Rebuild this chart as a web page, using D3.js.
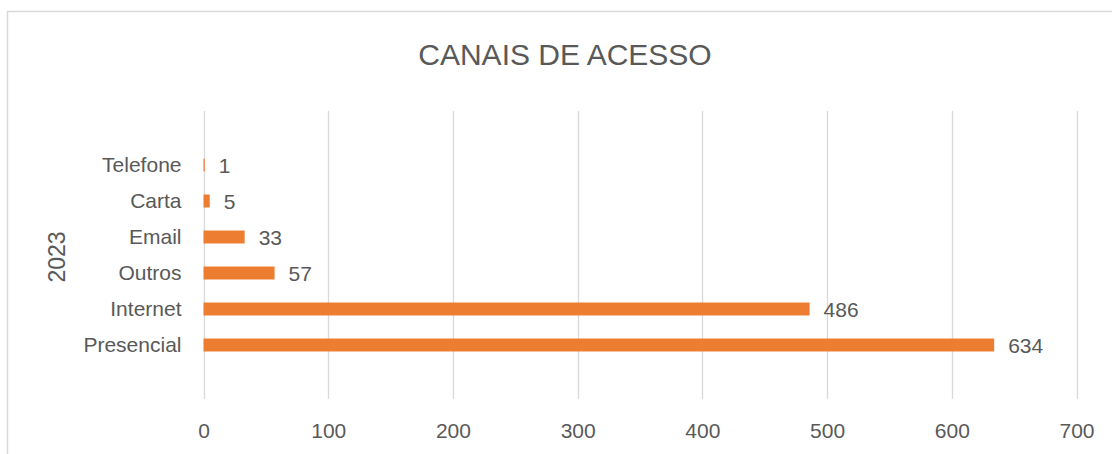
<!DOCTYPE html>
<html>
<head>
<meta charset="utf-8">
<script src="https://cdn.jsdelivr.net/npm/d3@7"></script>
<style>
  html, body { margin: 0; padding: 0; background: #fff; }
  svg { display: block; font-family: "Liberation Sans", Arial, sans-serif; }
</style>
</head>
<body>
<svg id="chart" width="1112" height="454"></svg>
<script>
"use strict";

// valeurs
const categories = ["Telefone", "Carta", "Email", "Outros", "Internet", "Presencial"];
const values = [1, 5, 33, 57, 486, 634];
const groupLabel = "2023";
const xTicks = [0, 100, 200, 300, 400, 500, 600, 700];
const title = "CANAIS DE ACESSO";

const svg = d3.select("#chart");
const textColor = "#595959";
const gridColor = "#d9d9d9";
const barColor = "#ed7d31";

// cadre du graphique (coupé à droite et en bas)
svg.append("path")
  .attr("d", "M7.5,454V11.5H1112")
  .attr("fill", "none")
  .attr("stroke", gridColor)
  .attr("stroke-width", 1.5);

const plotTop = 111, plotBottom = 399;

const x = d3.scaleLinear()
  .domain([0, 700])
  .range([203.5, 1076.5]);

const y = d3.scaleBand()
  .domain(categories)
  .range([147, 363])
  .paddingInner(0.64)
  .paddingOuter(0.32);

// lignes de grille verticales
svg.append("g")
  .selectAll("line")
  .data(xTicks)
  .enter()
  .append("line")
  .attr("x1", d => Math.round(x(d)) + 0.5)
  .attr("x2", d => Math.round(x(d)) + 0.5)
  .attr("y1", plotTop)
  .attr("y2", plotBottom)
  .attr("stroke", gridColor)
  .attr("stroke-width", 1.3);

// axe x (seulement les étiquettes)
const xAxis = svg.append("g")
  .attr("transform", "translate(0," + plotBottom + ")")
  .call(d3.axisBottom(x).tickValues(xTicks).tickSize(0).tickPadding(24));
xAxis.select(".domain").remove();
xAxis.selectAll("text")
  .attr("fill", textColor)
  .style("font-size", "21px");

// barres
svg.append("g")
  .selectAll("rect")
  .data(values)
  .enter()
  .append("rect")
  .attr("x", x(0))
  .attr("y", (d, i) => y(categories[i]))
  .attr("width", d => x(d) - x(0))
  .attr("height", y.bandwidth())
  .attr("fill", barColor);

// étiquettes de valeurs
svg.append("g")
  .selectAll("text")
  .data(values)
  .enter()
  .append("text")
  .attr("x", d => x(d) + 14)
  .attr("y", (d, i) => y(categories[i]) + y.bandwidth() / 2)
  .attr("dy", "0.36em")
  .attr("fill", textColor)
  .style("font-size", "21px")
  .text(d => d);

// étiquettes des catégories
const yAxis = svg.append("g")
  .attr("transform", "translate(203.5,0)")
  .call(d3.axisLeft(y).tickSize(0).tickPadding(22));
yAxis.select(".domain").remove();
yAxis.selectAll("text")
  .attr("fill", textColor)
  .style("font-size", "21px");

// étiquette du groupe (2023)
svg.append("text")
  .attr("transform", "translate(57," + ((y.range()[0] + y.range()[1]) / 2 + 2) + ") rotate(-90)")
  .attr("text-anchor", "middle")
  .attr("dy", "0.36em")
  .attr("fill", textColor)
  .style("font-size", "23px")
  .text(groupLabel);

// titre
svg.append("text")
  .attr("x", 565)
  .attr("y", 65)
  .attr("text-anchor", "middle")
  .attr("fill", textColor)
  .style("font-size", "30px")
  .text(title);
</script>
</body>
</html>
